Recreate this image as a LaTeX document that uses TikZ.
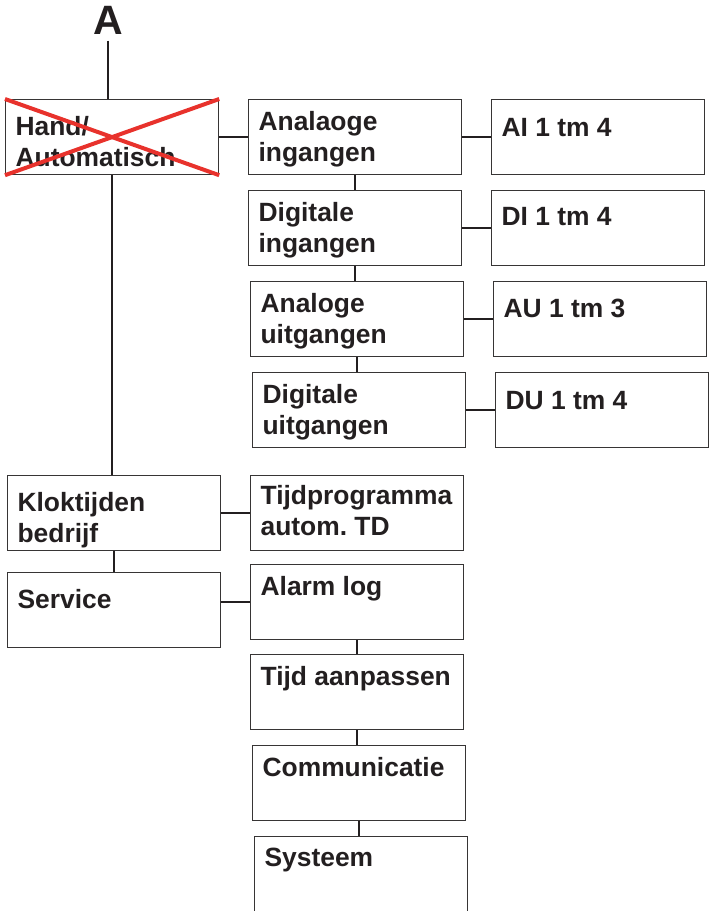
\documentclass[tikz,border=0pt]{standalone}
\usepackage{fontspec}
\setmainfont{Liberation Sans}
\usepackage{tikz}
\usetikzlibrary{calc}
\definecolor{crossred}{RGB}{232,50,44}
\definecolor{edge}{RGB}{55,53,53}
\definecolor{ink}{RGB}{35,31,32}
\tikzstyle{menu} = [draw=edge,line width=0.6pt,text=ink,inner sep=0pt,inner xsep=5pt,minimum width=106.5pt,minimum height=37.5pt,anchor=north west,font=\fontsize{13.2}{15.5}\selectfont\bfseries]
\tikzstyle{link} = [draw=ink,line width=1.05pt]
\tikzstyle{cross} = [draw=crossred,line width=2pt]
\newcommand{\mtxt}[2][8.5pt]{\parbox[t][37.5pt][t]{96.5pt}{\frenchspacing\vspace*{#1}#2}}

\begin{document}
\begin{tikzpicture}[x=0.5pt,y=-0.5pt]
\useasboundingbox (0,0) rectangle (710,911);

% Draw blocks, left column

    \node[font=\fontsize{20.5}{21}\selectfont\bfseries,text=ink,inner sep=3pt] at (108,20) (top) {A};
    \node[menu] at (5,99) (hand) {\mtxt{Hand/\\Automatisch}};
    \node[menu] at (7,475) (klok) {\mtxt{Kloktijden\\bedrijf}};
    \node[menu] at (7,572) (service) {\mtxt{Service}};

% middle column

    \node[menu] at (248,99) (anain) {\mtxt[6pt]{Analaoge\\ingangen}};
    \node[menu] at (248,190) (digin) {\mtxt[6pt]{Digitale\\ingangen}};
    \node[menu] at (250,281) (anaout) {\mtxt[6pt]{Analoge\\uitgangen}};
    \node[menu] at (252,372) (digout) {\mtxt[6pt]{Digitale\\uitgangen}};
    \node[menu] at (250,475) (tijdprog) {\mtxt[5pt]{Tijdprogramma\\autom. TD}};
    \node[menu] at (250,564) (alarm) {\mtxt[6pt]{Alarm log}};
    \node[menu] at (250,654) (tijdaan) {\mtxt[6pt]{Tijd aanpassen}};
    \node[menu] at (252,745) (comm) {\mtxt[6pt]{Communicatie}};
    \node[menu] at (254,836) (sys) {\mtxt[5.5pt]{Systeem}};

% right column

    \node[menu] at (491,99) (ai) {\mtxt[9.5pt]{AI 1 tm 4}};
    \node[menu] at (491,190) (di) {\mtxt{DI 1 tm 4}};
    \node[menu] at (493,281) (au) {\mtxt{AU 1 tm 3}};
    \node[menu] at (495,372) (du) {\mtxt[9.5pt]{DU 1 tm 4}};

% connections

    \draw[link] (top) -- (top |- hand.north);
    \draw[link] (hand.east) -- (anain.west);
    \draw[link] (anain.east) -- (ai.west);
    \draw[link] (digin.east) -- (di.west);
    \draw[link] (anaout.east) -- (au.west);
    \draw[link] (digout.east) -- (du.west);
    \draw[link] (anain.south) -- (anain.south |- digin.north);
    \draw[link] (digin.south) -- (digin.south |- anaout.north);
    \draw[link] (anaout.south) -- (anaout.south |- digout.north);
    \draw[link] (hand.south) -- (hand.south |- klok.north);
    \draw[link] (klok.east) -- (tijdprog.west);
    \draw[link] (klok.south) -- (klok.south |- service.north);
    \draw[link] (alarm.west) -- (alarm.west -| service.east);
    \draw[link] (alarm.south) -- (alarm.south |- tijdaan.north);
    \draw[link] (tijdaan.south) -- (tijdaan.south |- comm.north);
    \draw[link] (comm.south) -- (comm.south |- sys.north);

% crossed out
    \draw[cross] (hand.north west) -- (hand.south east);
    \draw[cross] (hand.south west) -- (hand.north east);

\end{tikzpicture}
\end{document}
